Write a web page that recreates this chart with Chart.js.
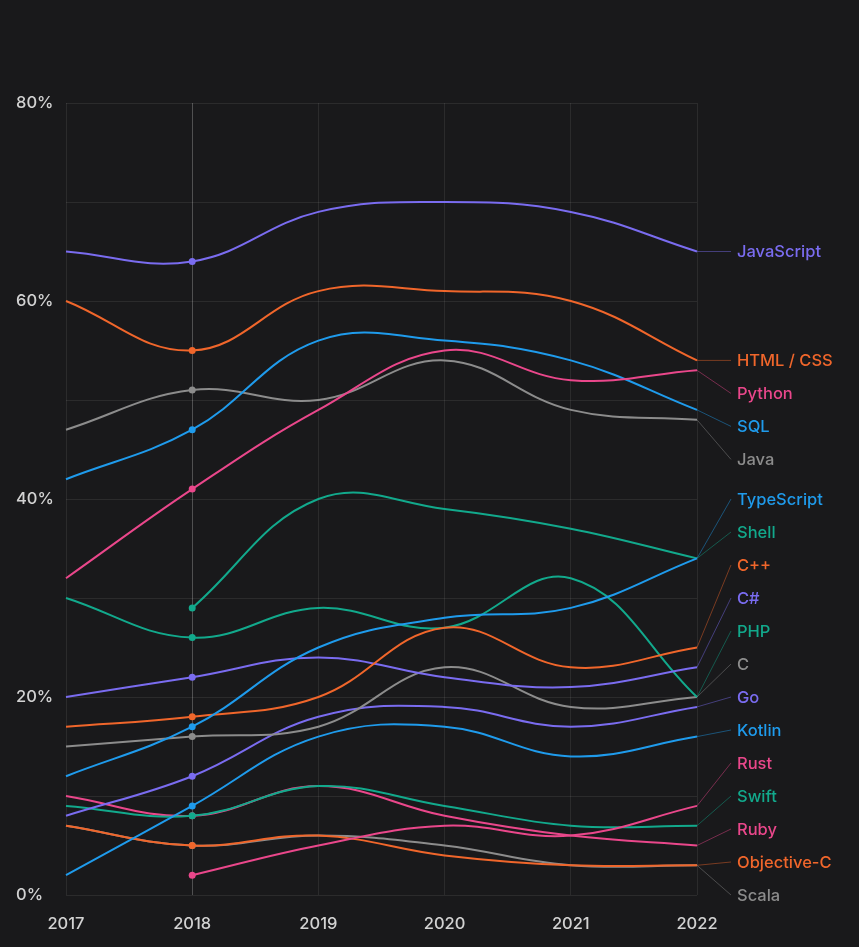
<!DOCTYPE html>
<html>
<head>
<meta charset="utf-8">
<script src="https://cdn.jsdelivr.net/npm/chart.js@4"></script>
<style>
  html, body { margin: 0; padding: 0; background: #19191b; }
  #wrap { width: 859px; height: 947px; position: relative; }
</style>
</head>
<body>
<div id="wrap"><canvas id="langChart"></canvas></div>
<script>
// Years on the x axis
const years = ['2017', '2018', '2019', '2020', '2021', '2022'];

// Share of respondents (%)
const javascript = [65, 64, 69, 70, 69, 65];
const htmlCss    = [60, 55, 61, 61, 60, 54];
const python     = [32, 41, 49, 55, 52, 53];
const sql        = [42, 47, 56, 56, 54, 49];
const java       = [47, 51, 50, 54, 49, 48];
const typescript = [12, 17, 25, 28, 29, 34];
const shell      = [null, 29, 40, 39, 37, 34];
const cpp        = [17, 18, 20, 27, 23, 25];
const csharp     = [20, 22, 24, 22, 21, 23];
const php        = [30, 26, 29, 27, 32, 20];
const cLang      = [15, 16, 17, 23, 19, 20];
const go         = [8, 12, 18, 19, 17, 19];
const kotlin     = [2, 9, 16, 17, 14, 16];
const rust       = [null, 2, 5, 7, 6, 9];
const swift      = [9, 8, 11, 9, 7, 7];
const ruby       = [10, 8, 11, 8, 6, 5];
const objectiveC = [7, 5, 6, 4, 3, 3];
const scala      = [7, 5, 6, 5, 3, 3];

const yTicks = [0, 20, 40, 60, 80];

const PURPLE = '#7a6cf0';
const ORANGE = '#f0662b';
const PINK   = '#ea478b';
const BLUE   = '#1f9bec';
const GRAY   = '#8c8c8c';
const TEAL   = '#12a98c';

const series = [
  ['JavaScript', javascript, PURPLE],
  ['HTML / CSS', htmlCss, ORANGE],
  ['Python', python, PINK],
  ['SQL', sql, BLUE],
  ['Java', java, GRAY],
  ['TypeScript', typescript, BLUE],
  ['Shell', shell, TEAL],
  ['C++', cpp, ORANGE],
  ['C#', csharp, PURPLE],
  ['PHP', php, TEAL],
  ['C', cLang, GRAY],
  ['Go', go, PURPLE],
  ['Kotlin', kotlin, BLUE],
  ['Rust', rust, PINK],
  ['Swift', swift, TEAL],
  ['Ruby', ruby, PINK],
  ['Objective-C', objectiveC, ORANGE],
  ['Scala', scala, GRAY]
];

const FONT = 'Inter, "Noto Sans", sans-serif';

function alpha(hex, a) {
  const n = parseInt(hex.slice(1), 16);
  return `rgba(${n >> 16},${(n >> 8) & 255},${n & 255},${a})`;
}

// right-side labels, spread out so they don't overlap
const endLabels = {
  id: 'endLabels',
  afterDatasetsDraw(chart) {
    const { ctx, chartArea, scales } = chart;
    const gap = 33;
    const items = chart.data.datasets.map((ds, i) => {
      const last = ds.data[ds.data.length - 1];
      const y = scales.y.getPixelForValue(last);
      return { text: ds.label, color: ds.borderColor, dataY: y, y: y, idx: i };
    });
    items.sort((a, b) => a.dataY - b.dataY || a.idx - b.idx);
    for (let i = 1; i < items.length; i++) {
      items[i].y = Math.max(items[i].y, items[i - 1].y + gap);
    }
    const bottom = chartArea.bottom;
    if (items[items.length - 1].y > bottom) items[items.length - 1].y = bottom;
    for (let i = items.length - 2; i >= 0; i--) {
      items[i].y = Math.min(items[i].y, items[i + 1].y - gap);
    }
    const x0 = chartArea.right;
    const textX = x0 + 40;
    ctx.save();
    ctx.font = '500 16.5px ' + FONT;
    ctx.textBaseline = 'middle';
    ctx.textAlign = 'left';
    items.forEach(it => {
      ctx.strokeStyle = alpha(it.color, 0.45);
      ctx.lineWidth = 1;
      ctx.beginPath();
      ctx.moveTo(x0, it.dataY);
      ctx.lineTo(textX - 6, it.y);
      ctx.stroke();
      ctx.fillStyle = it.color;
      ctx.fillText(it.text, textX, it.y + 1);
    });
    ctx.restore();
  }
};

const ctx = document.getElementById('langChart').getContext('2d');

new Chart(ctx, {
  type: 'line',
  data: {
    labels: years,
    datasets: series.map(([name, values, color]) => ({
      label: name,
      data: values,
      borderColor: color,
      backgroundColor: color,
      borderWidth: 2,
      tension: 0.4,
      pointRadius: c => (c.dataIndex === 1 ? 3.5 : 0),
      pointBorderWidth: 0,
      pointHoverRadius: 0
    }))
  },
  options: {
    responsive: true,
    maintainAspectRatio: false,
    animation: false,
    layout: { padding: { top: 103, right: 162, bottom: 0, left: 16 } },
    plugins: {
      legend: { display: false },
      tooltip: { enabled: false }
    },
    scales: {
      x: {
        offset: false,
        grid: {
          color: c => (c.index === 1 ? 'rgba(255,255,255,0.24)' : 'rgba(255,255,255,0.08)'),
          drawTicks: false
        },
        border: { display: false },
        ticks: {
          color: '#d2d2d2',
          font: { family: FONT, size: 16.5, weight: '500' },
          padding: 19,
          maxRotation: 0
        },
        afterFit: s => { s.height = 52; }
      },
      y: {
        min: 0,
        max: 80,
        grid: { color: 'rgba(255,255,255,0.08)', drawTicks: false },
        border: { display: false },
        ticks: {
          stepSize: 10,
          color: '#d2d2d2',
          crossAlign: 'far',
          font: { family: FONT, size: 16.5, weight: '500' },
          callback: v => (yTicks.includes(v) ? v + '%' : '')
        },
        afterFit: s => { s.width = 50; }
      }
    }
  },
  plugins: [endLabels]
});
</script>
</body>
</html>
